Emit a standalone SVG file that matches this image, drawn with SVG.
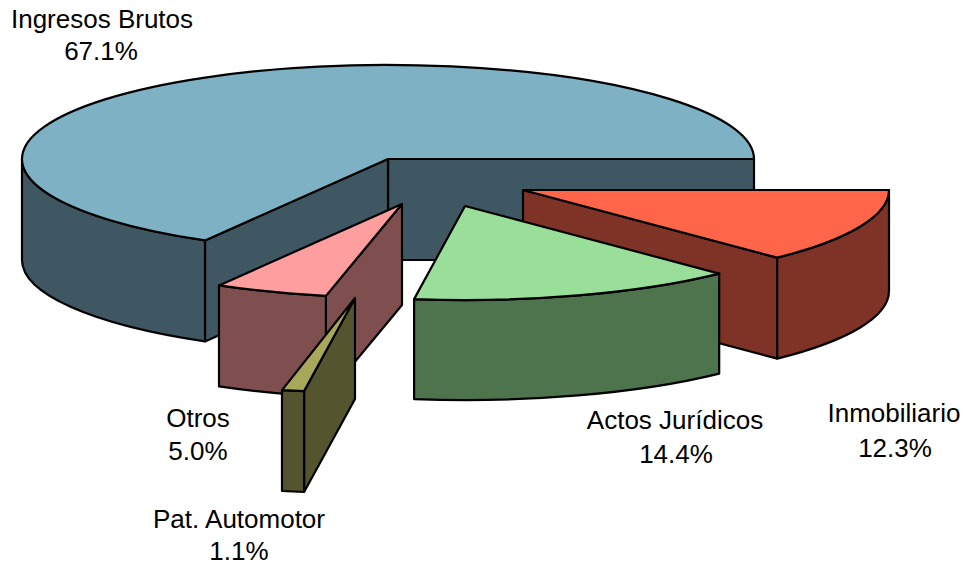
<svg xmlns="http://www.w3.org/2000/svg" width="973" height="571" viewBox="0 0 973 571">
<style>
  .s { stroke:#000; stroke-width:2.2; stroke-linejoin:round; }
  .ibT { fill:#7EB1C4; } .ibS { fill:#3F5763; }
  .inT { fill:#FF6548; } .inS { fill:#7F3226; }
  .ajT { fill:#99DE99; } .ajS { fill:#4D744D; }
  .otT { fill:#FF9E9E; } .otS { fill:#7F4F4F; }
  .paT { fill:#A8A85B; } .paS { fill:#54542E; }
  .lbl { font-family:"Liberation Sans", Arial, sans-serif; font-size:26px; fill:#000; text-anchor:middle; }
</style>
<rect width="973" height="571" fill="#fff"/>
<g id="ingresos-brutos">
  <path class="s ibS" d="M388,159 L754,159 L754,260 L388,260 Z"/>
  <path class="s ibS" d="M205,240.4 L388,159 L388,260 L205,341.4 Z"/>
  <path class="s ibS" d="M205,240.4 A366,94 0 0 1 22,159 L22,260 A366,94 0 0 0 205,341.4 Z"/>
  <path class="s ibT" d="M388,159 L754,159 A366,94 0 1 0 205,240.4 Z"/>
</g>
<g id="inmobiliario">
  <path class="s inS" d="M523,190 L777.2,257.6 L777.2,358.6 L523,291 Z"/>
  <path class="s inS" d="M889,190 A366,94 0 0 1 777.2,257.6 L777.2,358.6 A366,94 0 0 0 889,291 Z"/>
  <path class="s inT" d="M523,190 L889,190 A366,94 0 0 1 777.2,257.6 Z"/>
</g>
<g id="actos-juridicos">
  <path class="s ajS" d="M719.2,273.6 A366,94 0 0 1 414.1,299.1 L414.1,399.1 A366,94 0 0 0 719.2,373.6 Z"/>
  <path class="s ajT" d="M465,206 L719.2,273.6 A366,94 0 0 1 414.1,299.1 Z"/>
</g>
<g id="otros">
  <path class="s otS" d="M402,204 L325.9,295.9 L325.9,396.9 L402,305 Z"/>
  <path class="s otS" d="M325.9,295.9 A366,94 0 0 1 219,285.4 L219,386.4 A366,94 0 0 0 325.9,396.9 Z"/>
  <path class="s otT" d="M402,204 L325.9,295.9 A366,94 0 0 1 219,285.4 Z"/>
</g>
<g id="pat-automotor">
  <path class="s paS" d="M355,298 L304.1,391.1 L304.1,492 L355,399 Z"/>
  <path class="s paS" d="M304.1,391.1 A366,94 0 0 1 282,390.1 L282,491 A366,94 0 0 0 304.1,492 Z"/>
  <path class="s paT" d="M355,298 L304.1,391.1 A366,94 0 0 1 282,390.1 Z"/>
</g>
<g id="connectors"></g>
<g id="labels">
  <text class="lbl" x="102" y="28">Ingresos Brutos</text>
  <text class="lbl" x="101" y="60">67.1%</text>
  <text class="lbl" x="675" y="429">Actos Jurídicos</text>
  <text class="lbl" x="676" y="463">14.4%</text>
  <text class="lbl" x="894" y="422">Inmobiliario</text>
  <text class="lbl" x="895" y="457">12.3%</text>
  <text class="lbl" x="198" y="427">Otros</text>
  <text class="lbl" x="198" y="460">5.0%</text>
  <text class="lbl" x="239" y="528">Pat. Automotor</text>
  <text class="lbl" x="239" y="560">1.1%</text>
</g>
</svg>
